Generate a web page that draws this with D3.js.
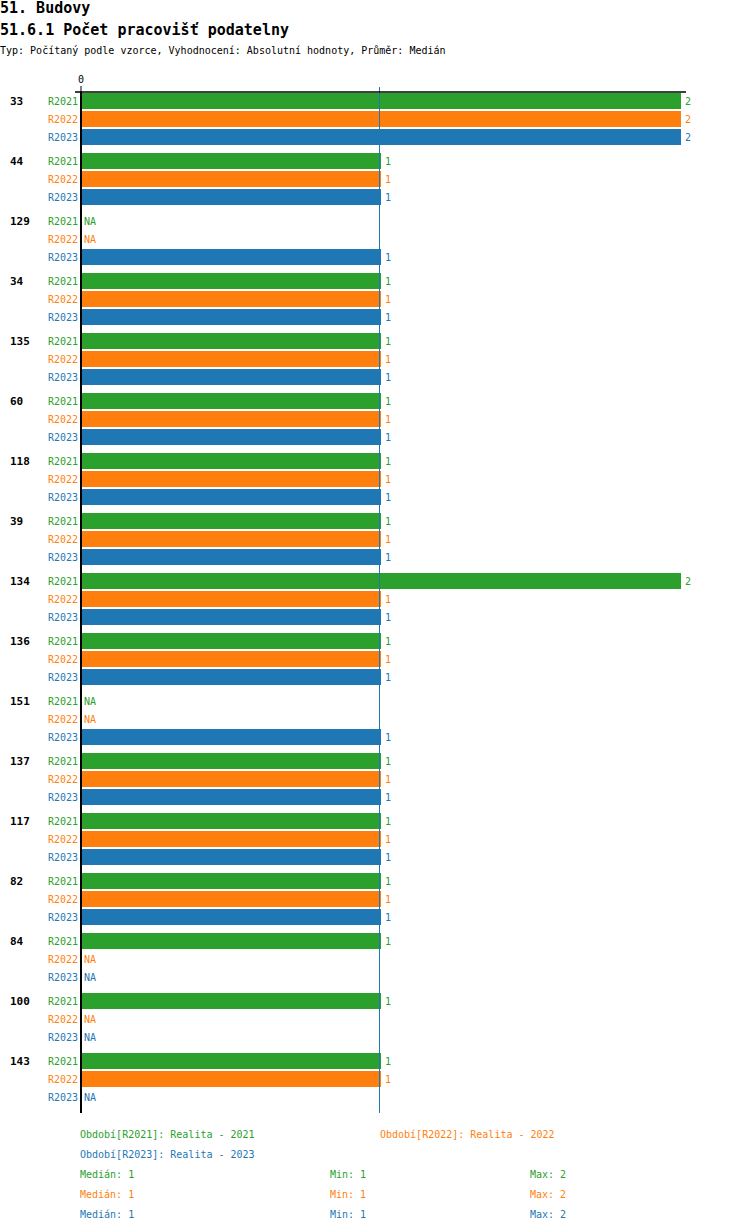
<!DOCTYPE html>
<html>
<head>
<meta charset="utf-8">
<script src="https://cdn.jsdelivr.net/npm/d3@7"></script>
<style>
  body { margin: 0; background: #fff; }
  text { font-family: "DejaVu Sans Mono", monospace; }
</style>
</head>
<body>
<svg id="chart"></svg>
<script>
// DATA
const groups = ["33", "44", "129", "34", "135", "60", "118", "39", "134", "136", "151", "137", "117", "82", "84", "100", "143"];
const seriesKeys = ["R2021", "R2022", "R2023"];
const seriesNames = ["Realita - 2021", "Realita - 2022", "Realita - 2023"];
const seriesColors = ["#2ca02c", "#ff7f0e", "#1f77b4"];
const r2021 = [2, 1, null, 1, 1, 1, 1, 1, 2, 1, null, 1, 1, 1, 1, 1, 1];
const r2022 = [2, 1, null, 1, 1, 1, 1, 1, 1, 1, null, 1, 1, 1, null, null, 1];
const r2023 = [2, 1, 1, 1, 1, 1, 1, 1, 1, 1, 1, 1, 1, 1, null, null, null];
const xTicks = [0];

const title1 = "51. Budovy";
const title2 = "51.6.1 Počet pracovišť podatelny";
const subtitle = "Typ: Počítaný podle vzorce, Vyhodnocení: Absolutní hodnoty, Průměr: Medián";

// LAYOUT
const width = 750;
const height = 1232;
const plotLeft = 81;
const plotTop = 93;
const groupStep = 60;

const svg = d3.select("#chart")
    .attr("width", width)
    .attr("height", height);

const seriesValues = [r2021, r2022, r2023];

// scales
const x = d3.scaleLinear()
    .domain([0, 2])
    .range([plotLeft, plotLeft + 600]);

const yGroup = d3.scaleBand()
    .domain(groups)
    .range([plotTop, plotTop + groupStep * groups.length]);

const ySeries = d3.scaleBand()
    .domain(seriesKeys)
    .range([0, 52])
    .paddingInner(1 / 9)
    .paddingOuter(0);

// titles
svg.append("text")
    .attr("x", 0).attr("y", 13)
    .attr("font-size", 15).attr("font-weight", "bold")
    .text(title1);

svg.append("text")
    .attr("x", 0).attr("y", 35)
    .attr("font-size", 15).attr("font-weight", "bold")
    .text(title2);

svg.append("text")
    .attr("x", 0).attr("y", 54)
    .attr("font-size", 10)
    .text(subtitle);

// flat rows
const rows = [];
groups.forEach((g, i) => {
    seriesKeys.forEach((k, j) => {
        rows.push({ group: g, key: k, value: seriesValues[j][i], color: seriesColors[j] });
    });
});

// bars
svg.append("g")
    .selectAll("rect")
    .data(rows.filter(d => d.value != null))
    .join("rect")
    .attr("x", x(0))
    .attr("y", d => yGroup(d.group) + ySeries(d.key))
    .attr("width", d => x(d.value) - x(0))
    .attr("height", ySeries.bandwidth())
    .attr("fill", d => d.color)
    .attr("shape-rendering", "crispEdges");

// value labels
svg.append("g")
    .selectAll("text")
    .data(rows)
    .join("text")
    .attr("x", d => d.value == null ? x(0) + 3 : x(d.value) + 4)
    .attr("y", d => yGroup(d.group) + ySeries(d.key) + ySeries.bandwidth() / 2)
    .attr("dy", "0.35em")
    .attr("font-size", 10)
    .attr("fill", d => d.color)
    .text(d => d.value == null ? "NA" : d.value);

// series labels
svg.append("g")
    .selectAll("text")
    .data(rows)
    .join("text")
    .attr("x", 78)
    .attr("y", d => yGroup(d.group) + ySeries(d.key) + ySeries.bandwidth() / 2)
    .attr("dy", "0.35em")
    .attr("text-anchor", "end")
    .attr("font-size", 10)
    .attr("fill", d => d.color)
    .text(d => d.key);

// group labels
svg.append("g")
    .selectAll("text")
    .data(groups)
    .join("text")
    .attr("x", 10)
    .attr("y", d => yGroup(d) + ySeries.bandwidth() / 2)
    .attr("dy", "0.35em")
    .attr("font-size", 11)
    .attr("font-weight", "bold")
    .text(d => d);

const plotBottom = yGroup.range()[1];

// median line
const allValues = seriesValues.flat().filter(v => v != null);
const overallMedian = d3.median(allValues);
svg.append("line")
    .attr("x1", x(overallMedian) - 1.5)
    .attr("x2", x(overallMedian) - 1.5)
    .attr("y1", plotTop - 6)
    .attr("y2", plotBottom)
    .attr("stroke", "#1f77b4")
    .attr("stroke-width", 1);

// top axis
const xAxis = svg.append("g")
    .attr("transform", `translate(0, ${plotTop - 1})`)
    .call(d3.axisTop(x).tickValues(xTicks).tickSizeInner(6).tickSizeOuter(0).tickFormat(d3.format("d")));
xAxis.select(".domain").remove();
xAxis.selectAll(".tick line").attr("stroke", "#000").attr("transform", "translate(-0.5,0)");
xAxis.selectAll(".tick text")
    .attr("font-family", "DejaVu Sans Mono, monospace")
    .attr("font-size", 10)
    .attr("dx", "-0.05em");

svg.append("line")
    .attr("x1", x(0) - 6).attr("x2", x(2) + 5)
    .attr("y1", plotTop - 1).attr("y2", plotTop - 1)
    .attr("stroke", "#000").attr("stroke-width", 1.5);

svg.append("line")
    .attr("x1", x(0)).attr("x2", x(0))
    .attr("y1", plotTop - 1.5).attr("y2", plotBottom)
    .attr("stroke", "#000").attr("stroke-width", 2);

// legend
const legendTop = 1138;
const legendCols = [80, 380];
svg.append("g")
    .selectAll("text")
    .data(seriesKeys)
    .join("text")
    .attr("x", (d, i) => legendCols[i % 2])
    .attr("y", (d, i) => legendTop + Math.floor(i / 2) * 20)
    .attr("font-size", 10)
    .attr("fill", (d, i) => seriesColors[i])
    .text((d, i) => `Období[${d}]: ${seriesNames[i]}`);

// stats
const statCols = [80, 330, 530];
const statsTop = legendTop + 40;
seriesKeys.forEach((k, i) => {
    const vals = seriesValues[i].filter(v => v != null);
    const stats = [
        ["Medián", d3.median(vals)],
        ["Min", d3.min(vals)],
        ["Max", d3.max(vals)]
    ];
    svg.append("g")
        .selectAll("text")
        .data(stats)
        .join("text")
        .attr("x", (d, c) => statCols[c])
        .attr("y", statsTop + i * 20)
        .attr("font-size", 10)
        .attr("fill", seriesColors[i])
        .text(d => `${d[0]}: ${d[1]}`);
});
</script>
</body>
</html>
